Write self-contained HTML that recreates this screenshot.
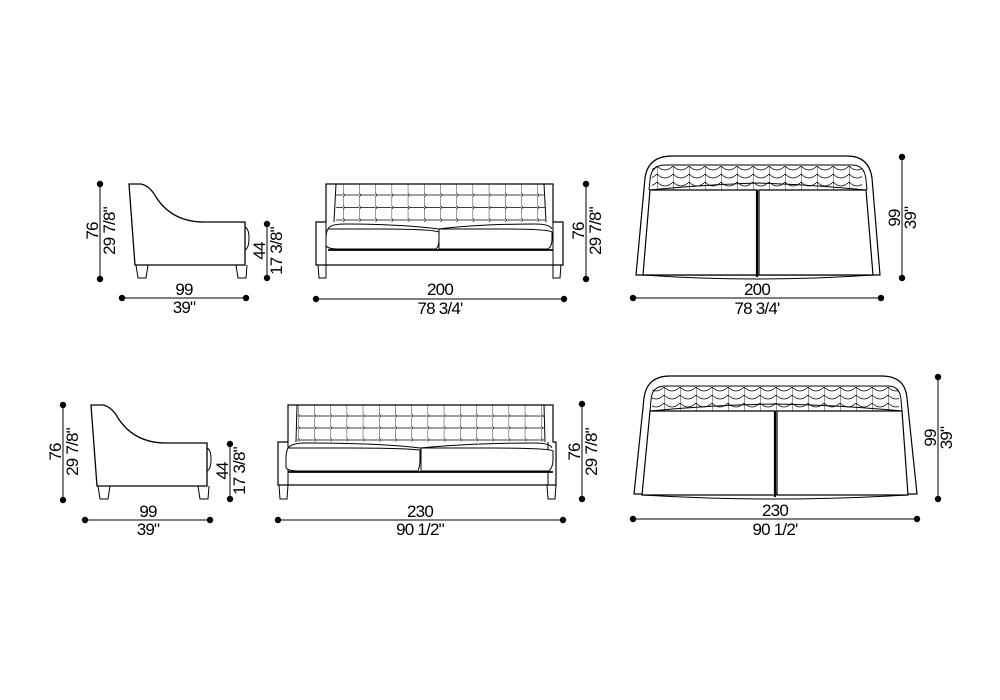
<!DOCTYPE html>
<html><head><meta charset="utf-8"><style>
html,body{margin:0;padding:0;background:#fff;width:1000px;height:700px;overflow:hidden}
text{font-family:"Liberation Sans",sans-serif;font-size:17px;letter-spacing:-0.8px;fill:#000}
</style></head><body>
<svg width="1000" height="700" viewBox="0 0 1000 700" xmlns="http://www.w3.org/2000/svg">
<defs>
<pattern id="tuft" x="343" y="184" width="16.2" height="12.5" patternUnits="userSpaceOnUse">
<line x1="0" y1="0" x2="0" y2="12.5" stroke="#000" stroke-width="0.8"/>
<line x1="0" y1="11" x2="16.2" y2="11" stroke="#000" stroke-width="0.8"/>
<circle cx="0" cy="11" r="1.3" fill="#fff" stroke="#000" stroke-width="0.7"/>
</pattern>
<pattern id="tuft2" x="298" y="405" width="16.2" height="12" patternUnits="userSpaceOnUse">
<line x1="0" y1="0" x2="0" y2="12" stroke="#000" stroke-width="0.8"/>
<line x1="0" y1="11" x2="16.2" y2="11" stroke="#000" stroke-width="0.8"/>
<circle cx="0" cy="11" r="1.3" fill="#fff" stroke="#000" stroke-width="0.7"/>
</pattern>
<pattern id="scal" x="641" y="165" width="16" height="8" patternUnits="userSpaceOnUse">
<line x1="0" y1="0" x2="0" y2="8" stroke="#000" stroke-width="0.8"/>
<path d="M0,1 Q8,9 16,1" fill="none" stroke="#000" stroke-width="0.8"/>
</pattern>
<pattern id="scal2" x="648" y="386" width="16" height="8" patternUnits="userSpaceOnUse">
<line x1="0" y1="0" x2="0" y2="8" stroke="#000" stroke-width="0.8"/>
<path d="M0,1 Q8,9 16,1" fill="none" stroke="#000" stroke-width="0.8"/>
</pattern>
<g id="chair" fill="none" stroke="#000" stroke-width="1">
<path d="M129,184 L141,184 Q150,186 156,197 Q172,222 204,222 L245,222 L245,265 L135,265 Z" stroke-width="1.3"/>
<path d="M245,227 Q249,229 249,238 Q249,248 245,250"/>
<path d="M136,265 L138,278 L146,278 L148,265"/>
<path d="M236,265 L238,278 L246,278 L247,265"/>
</g>
</defs>

<g stroke="#000" stroke-width="1" fill="none">
<line x1="100" y1="184" x2="100" y2="279"/>
<line x1="267" y1="224" x2="267" y2="278"/>
<line x1="122" y1="298" x2="246" y2="298"/>
<line x1="316" y1="299" x2="565" y2="299"/>
<line x1="586" y1="184" x2="586" y2="279"/>
<line x1="633" y1="298" x2="881" y2="298"/>
<line x1="902" y1="157" x2="902" y2="278"/>
<line x1="63" y1="405" x2="63" y2="500"/>
<line x1="230" y1="444" x2="230" y2="499"/>
<line x1="85" y1="520" x2="210" y2="520"/>
<line x1="278" y1="520" x2="563" y2="520"/>
<line x1="582" y1="404" x2="582" y2="499"/>
<line x1="633" y1="519" x2="917" y2="519"/>
<line x1="938" y1="377" x2="938" y2="499"/>
</g>
<g fill="#000">
<circle cx="100" cy="184" r="3.2"/><circle cx="100" cy="279" r="3.2"/>
<circle cx="267" cy="224" r="3.2"/><circle cx="267" cy="278" r="3.2"/>
<circle cx="122" cy="298" r="3.2"/><circle cx="246" cy="298" r="3.2"/>
<circle cx="316" cy="299" r="3.2"/><circle cx="564" cy="299" r="3.2"/>
<circle cx="586" cy="184" r="3.2"/><circle cx="586" cy="279" r="3.2"/>
<circle cx="633" cy="298" r="3.2"/><circle cx="881" cy="298" r="3.2"/>
<circle cx="902" cy="157" r="3.2"/><circle cx="902" cy="278" r="3.2"/>
<circle cx="63" cy="405" r="3.2"/><circle cx="63" cy="500" r="3.2"/>
<circle cx="230" cy="444" r="3.2"/><circle cx="230" cy="499" r="3.2"/>
<circle cx="85" cy="520" r="3.2"/><circle cx="210" cy="520" r="3.2"/>
<circle cx="278" cy="520" r="3.2"/><circle cx="563" cy="520" r="3.2"/>
<circle cx="582" cy="404" r="3.2"/><circle cx="582" cy="499" r="3.2"/>
<circle cx="633" cy="519" r="3.2"/><circle cx="917" cy="519" r="3.2"/>
<circle cx="938" cy="377" r="3.2"/><circle cx="938" cy="499" r="3.2"/>
</g>

<use href="#chair"/>
<use href="#chair" transform="translate(-38,221)"/>

<!-- FRONT 1 -->
<g fill="none" stroke="#000" stroke-width="1">
<rect x="336" y="184" width="209" height="38" fill="url(#tuft)" stroke="none"/>
<path d="M326,184 L553,184 L553,222 L563,222 L563,265 L316,265 L316,222 L326,222 Z" stroke-width="1.2"/>
<line x1="336" y1="184" x2="334" y2="222"/><line x1="544" y1="184" x2="546" y2="222"/>
<line x1="326" y1="222" x2="326" y2="265"/><line x1="553" y1="222" x2="553" y2="265"/>
<path d="M328,229 Q330,224 345,224 Q400,224 439,229 Q480,224 535,224 Q550,224 552,229"/>
<path d="M328,229 Q326,232 326,238 L326,246 Q329,249 337,249 L436,249 Q439,246 439,240 L439,232 Q430,229 380,229 Z" fill="#fff"/>
<path d="M439,229 L439,249 L548,249 Q552,246 552,240 L552,232 Q548,229 500,229 Z" fill="#fff"/>
<line x1="328" y1="250" x2="553" y2="250" stroke-width="1.8"/>
<path d="M318,265 L319,278 L326,278 L326,265"/>
<path d="M553,265 L553,278 L560,278 L561,265"/>
</g>

<!-- FRONT 2 -->
<g fill="none" stroke="#000" stroke-width="1">
<rect x="297" y="405" width="247" height="37" fill="url(#tuft2)" stroke="none"/>
<path d="M288,405 L553,405 L553,442 L556,442 L556,485 L278,485 L278,442 L288,442 Z" stroke-width="1.2"/>
<line x1="297" y1="405" x2="296" y2="442"/><line x1="544" y1="405" x2="545" y2="442"/>
<line x1="288" y1="442" x2="288" y2="485"/><line x1="548" y1="442" x2="548" y2="485"/>
<path d="M288,448 Q292,443 305,443 Q380,443 420,448 Q470,443 535,443 Q550,443 552,448"/>
<path d="M288,448 Q286,452 286,458 L286,468 Q289,471 297,471 L418,471 Q420,466 420,460 L420,450 Q400,448 350,448 Z" fill="#fff"/>
<path d="M421,448 L421,471 L549,471 Q553,467 553,460 L553,451 Q550,448 490,448 Z" fill="#fff"/>
<line x1="288" y1="472" x2="553" y2="472" stroke-width="1.8"/>
<path d="M279,485 L280,499 L287,499 L288,485"/>
<path d="M547,485 L548,499 L555,499 L556,485"/>
</g>

<!-- TOP 1 -->
<g fill="none" stroke="#000" stroke-width="1">
<path d="M636,275 L645,178 Q648,156 672,156 L847,156 Q869,156 872,178 L880,275 Z" stroke-width="1.2"/>
<rect x="652" y="166" width="210" height="24" fill="url(#scal)" stroke="none"/>
<path d="M649,190 L650,180 Q651,165 665,165 L852,165 Q865,165 866,180 L867,190"/>
<path d="M650,190 Q700,185 757,183 Q815,185 866,190"/>
<path d="M650,190 L643,275 L757,275 L757,190 Z" fill="#fff" stroke-width="1.2"/>
<path d="M759,190 L759,275 L873,275 L866,190 Z" fill="#fff" stroke-width="1.2"/>
<line x1="757" y1="190" x2="757" y2="277" stroke-width="2.2"/>
<path d="M643,275 Q700,279 757,279 Q815,279 873,275"/>
</g>

<!-- TOP 2 -->
<g fill="none" stroke="#000" stroke-width="1">
<path d="M634,494 L644,398 Q647,376 670,376 L882,376 Q905,376 907,398 L917,494 Z" stroke-width="1.2"/>
<rect x="652" y="387" width="247" height="24" fill="url(#scal2)" stroke="none"/>
<path d="M650,411 L651,400 Q652,386 665,386 L888,386 Q900,386 901,400 L902,411"/>
<path d="M650,411 Q710,405 775,404 Q840,405 902,411"/>
<path d="M650,411 L642,495 L775,495 L775,411 Z" fill="#fff" stroke-width="1.2"/>
<path d="M777,411 L777,495 L908,495 L902,411 Z" fill="#fff" stroke-width="1.2"/>
<line x1="775" y1="411" x2="775" y2="497" stroke-width="2.2"/>
<path d="M642,495 Q710,499 775,499 Q840,499 908,495"/>
</g>

<g>
<text transform="translate(98,231) rotate(-90)" text-anchor="middle">76</text>
<text transform="translate(115,231) rotate(-90)" text-anchor="middle">29 7/8"</text>
<text transform="translate(265,251) rotate(-90)" text-anchor="middle">44</text>
<text transform="translate(282,251) rotate(-90)" text-anchor="middle">17 3/8"</text>
<text x="184" y="295" text-anchor="middle">99</text>
<text x="184" y="313" text-anchor="middle">39"</text>
<text x="440" y="295" text-anchor="middle">200</text>
<text x="440" y="314" text-anchor="middle">78 3/4'</text>
<text transform="translate(584,231) rotate(-90)" text-anchor="middle">76</text>
<text transform="translate(601,231) rotate(-90)" text-anchor="middle">29 7/8"</text>
<text x="757" y="295" text-anchor="middle">200</text>
<text x="757" y="314" text-anchor="middle">78 3/4'</text>
<text transform="translate(900,218) rotate(-90)" text-anchor="middle">99</text>
<text transform="translate(916,218) rotate(-90)" text-anchor="middle">39"</text>

<text transform="translate(61,452) rotate(-90)" text-anchor="middle">76</text>
<text transform="translate(78,452) rotate(-90)" text-anchor="middle">29 7/8"</text>
<text transform="translate(228,471) rotate(-90)" text-anchor="middle">44</text>
<text transform="translate(245,471) rotate(-90)" text-anchor="middle">17 3/8"</text>
<text x="148" y="517" text-anchor="middle">99</text>
<text x="148" y="535" text-anchor="middle">39"</text>
<text x="420" y="517" text-anchor="middle">230</text>
<text x="420" y="535" text-anchor="middle">90 1/2"</text>
<text transform="translate(580,452) rotate(-90)" text-anchor="middle">76</text>
<text transform="translate(597,452) rotate(-90)" text-anchor="middle">29 7/8"</text>
<text x="775" y="516" text-anchor="middle">230</text>
<text x="775" y="535" text-anchor="middle">90 1/2'</text>
<text transform="translate(936,438) rotate(-90)" text-anchor="middle">99</text>
<text transform="translate(952,438) rotate(-90)" text-anchor="middle">39"</text>
</g>
</svg>
</body></html>
